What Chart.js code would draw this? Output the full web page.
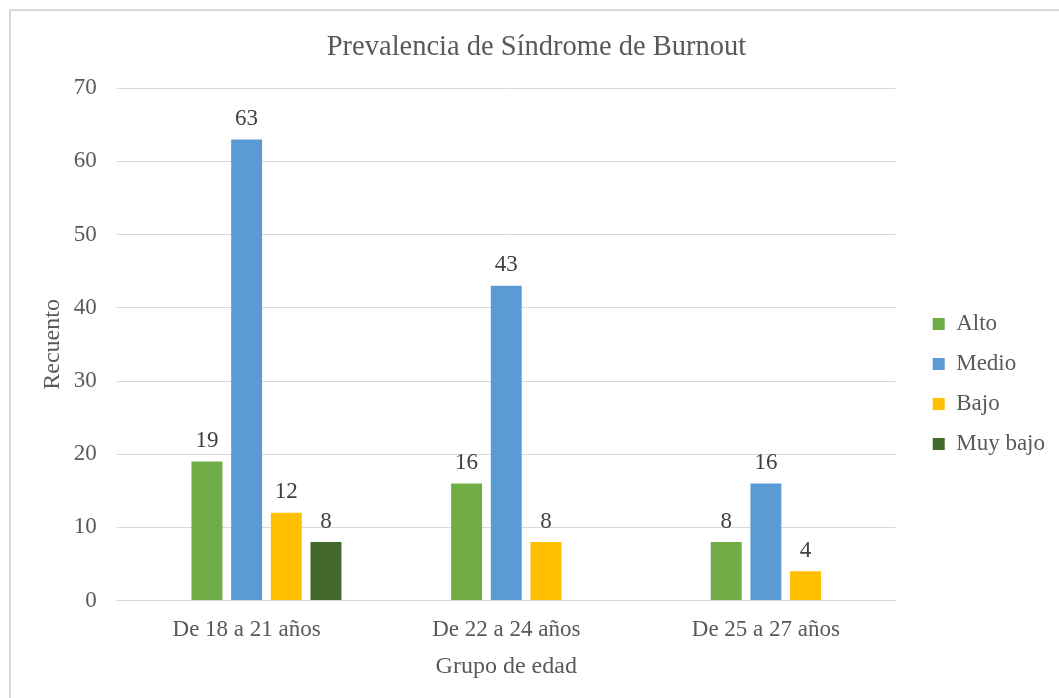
<!DOCTYPE html>
<html>
<head>
<meta charset="utf-8">
<script src="https://cdn.jsdelivr.net/npm/chart.js@4.4.1/dist/chart.umd.min.js"></script>
<style>
  body { margin: 0; background: #fff; overflow: hidden; }
  #frame { position: absolute; left: 9px; top: 9px; width: 1200px; height: 800px; border: 2px solid #d9d9d9; }
  #wrap { position: absolute; left: 0; top: 0; width: 1059px; height: 698px; }
</style>
</head>
<body>
<div id="frame"></div>
<div id="wrap"><canvas id="myChart"></canvas></div>
<script>
const categories = ['De 18 a 21 años', 'De 22 a 24 años', 'De 25 a 27 años'];
const muyAlto = [null, null, null];   // empty series, keeps the first slot free
const alto = [19, 16, 8];
const medio = [63, 43, 16];
const bajo = [12, 8, 4];
const muyBajo = [8, null, null];
const yTicks = [0, 10, 20, 30, 40, 50, 60, 70];

const serif = "'Liberation Serif', 'Times New Roman', serif";
const grey = '#595959';

// draw the value above each bar
const barLabels = {
  id: 'barLabels',
  afterDatasetsDraw(chart) {
    const c = chart.ctx;
    c.save();
    c.font = '23px ' + serif;
    c.fillStyle = '#404040';
    c.textAlign = 'center';
    c.textBaseline = 'bottom';
    chart.data.datasets.forEach((ds, i) => {
      chart.getDatasetMeta(i).data.forEach((bar, j) => {
        if (ds.data[j] == null) return;
        c.fillText(ds.data[j], bar.x, bar.y - 9);
      });
    });
    c.restore();
  }
};

// leave a wider gap between the plot and the legend
const legendShift = {
  id: 'legendShift',
  beforeDraw(chart) {
    chart.legend.left += 20;
    chart.legend.right += 20;
  }
};

const ctx = document.getElementById('myChart');

new Chart(ctx, {
  type: 'bar',
  data: {
    labels: categories,
    datasets: [
      { label: 'Muy alto', data: muyAlto, backgroundColor: '#ED7D31' },
      { label: 'Alto', data: alto, backgroundColor: '#70AD47' },
      { label: 'Medio', data: medio, backgroundColor: '#5B9BD5' },
      { label: 'Bajo', data: bajo, backgroundColor: '#FFC000' },
      { label: 'Muy bajo', data: muyBajo, backgroundColor: '#43682B' }
    ]
  },
  options: {
    responsive: true,
    maintainAspectRatio: false,
    animation: false,
    events: [],
    categoryPercentage: 0.764,
    barPercentage: 0.78,
    layout: { padding: { left: 38, right: 24, top: 0, bottom: 17 } },
    scales: {
      x: {
        grid: { display: false },
        border: { display: true, color: '#d9d9d9', width: 1 },
        ticks: { color: grey, font: { family: serif, size: 23 }, padding: 8 },
        title: { display: true, text: 'Grupo de edad', color: grey, font: { family: serif, size: 24 }, padding: { top: 0, bottom: 0 } }
      },
      y: {
        min: 0,
        max: 70,
        afterBuildTicks(axis) { axis.ticks = yTicks.map(v => ({ value: v })); },
        grid: { color: '#d9d9d9', drawTicks: false },
        border: { display: false },
        ticks: { color: grey, font: { family: serif, size: 23 }, padding: 20 },
        title: { display: true, text: 'Recuento', color: grey, font: { family: serif, size: 24 }, padding: { top: 0, bottom: -13 } }
      }
    },
    plugins: {
      title: {
        display: true,
        text: 'Prevalencia de Síndrome de Burnout',
        color: grey,
        font: { family: serif, size: 28.5, weight: 'normal' },
        padding: { top: 30, bottom: 24 }
      },
      legend: {
        position: 'right',
        title: { display: true, text: ' ', font: { size: 1 }, padding: { top: 86, bottom: 0 } },
        labels: {
          color: grey,
          font: { family: serif, size: 23 },
          boxWidth: 12,
          boxHeight: 12,
          padding: 17,
          filter: item => item.text !== 'Muy alto'
        }
      },
      tooltip: { enabled: false }
    }
  },
  plugins: [barLabels, legendShift]
});
</script>
</body>
</html>
